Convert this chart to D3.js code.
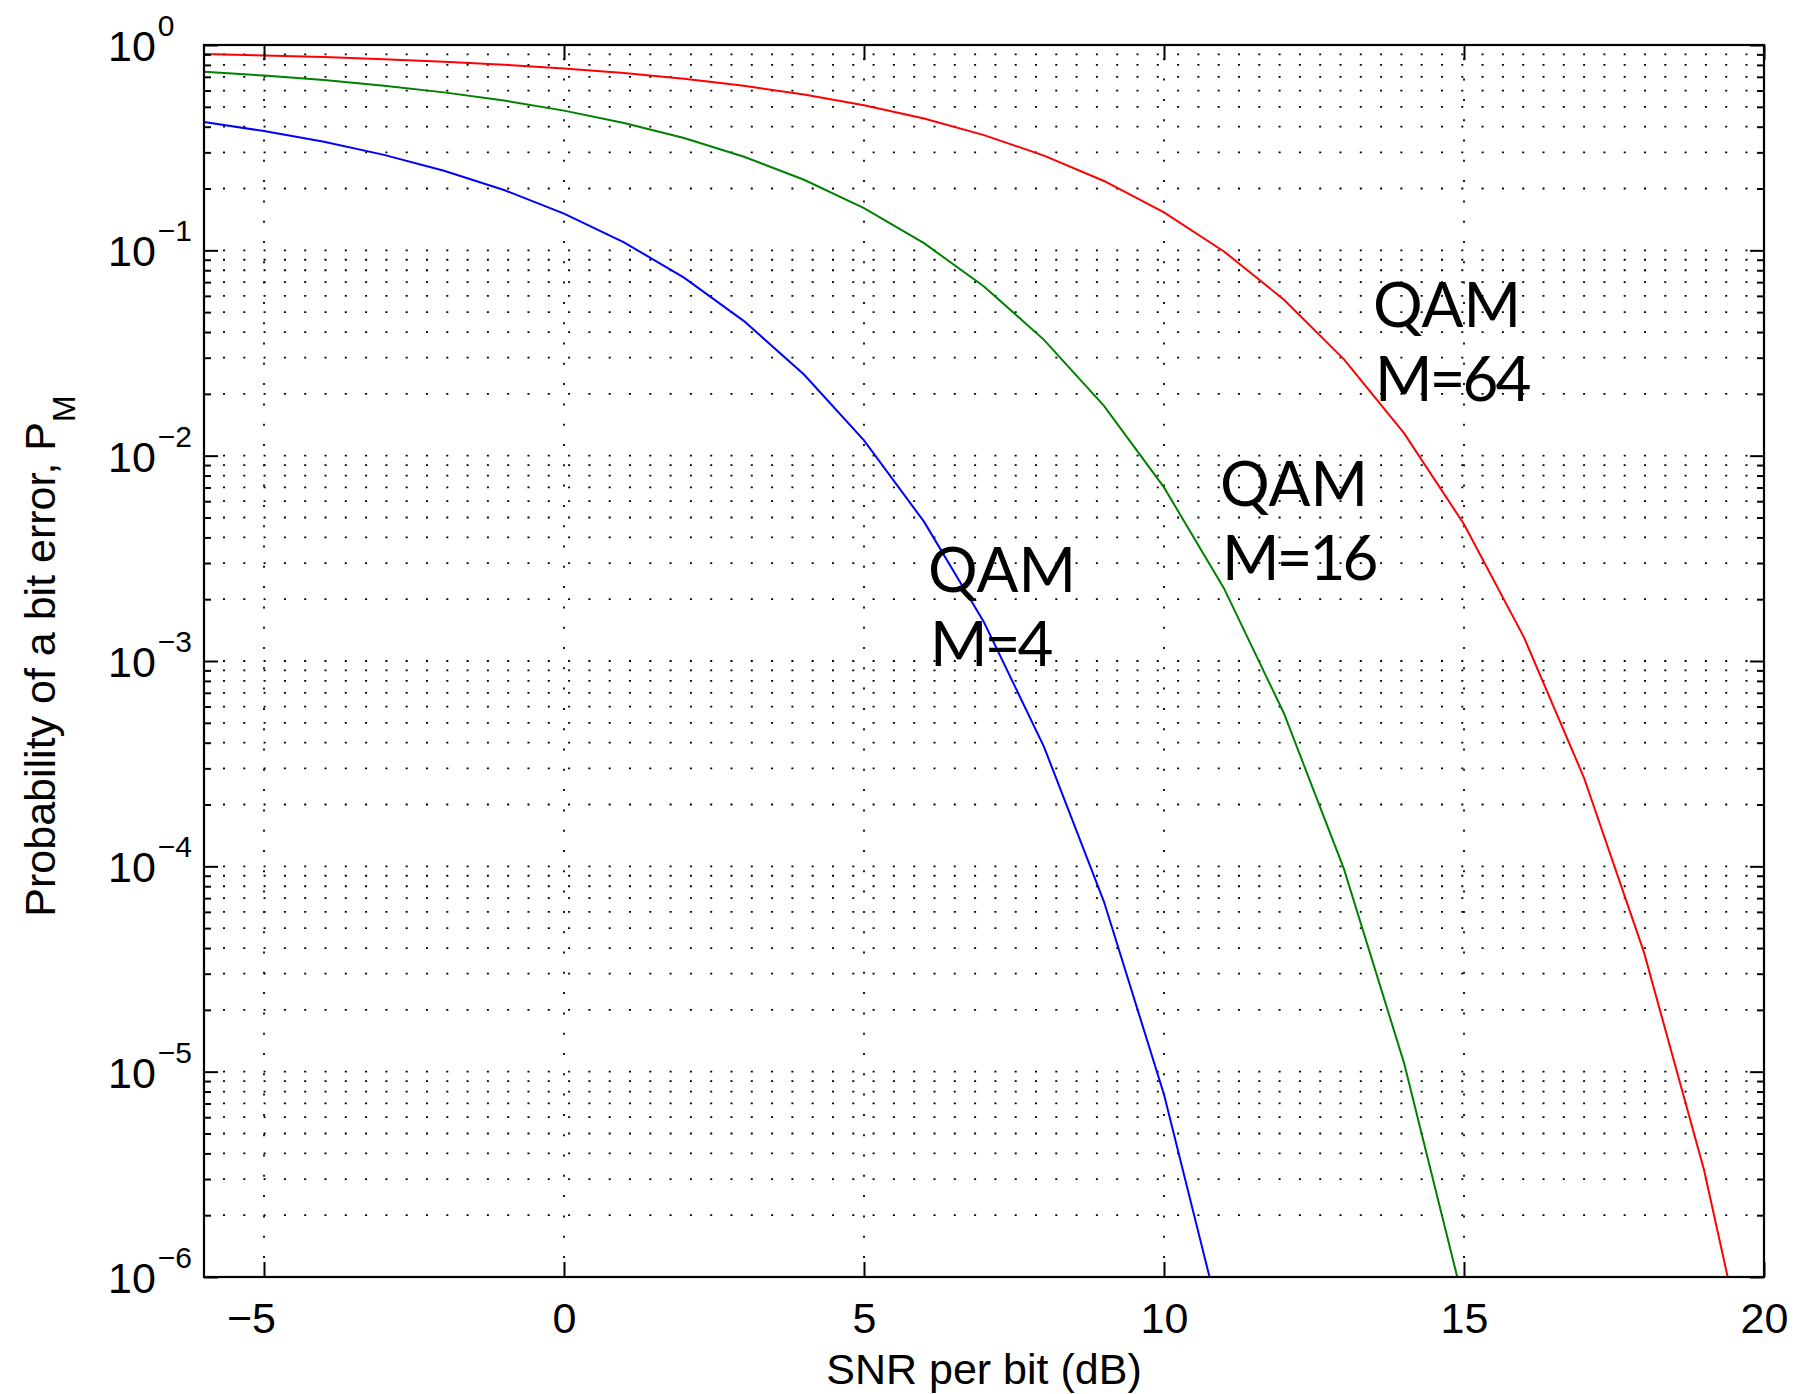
<!DOCTYPE html>
<html>
<head>
<meta charset="utf-8">
<script src="https://cdn.jsdelivr.net/npm/d3@7"></script>
<style>
  body { margin: 0; background: #fff; }
  svg { display: block; }
</style>
</head>
<body>
<svg id="chart" width="1799" height="1394"></svg>
<script>
// SNR per bit (dB), one point per integer dB
const snr = [-6, -5, -4, -3, -2, -1, 0, 1, 2, 3, 4, 5, 6, 7, 8, 9, 10,
             11, 12, 13, 14, 15, 16, 17, 18, 19, 20];

// error probability
const pm4 = [0.4213, 0.3809, 0.3376, 0.2917, 0.2441, 0.1968, 0.1510, 0.1094,
             0.0736, 0.04524, 0.02484, 0.01187, 0.00477, 0.001545, 3.82e-4,
             6.72e-5, 7.74e-6, 5.22e-7];
const pm16 = [0.7404, 0.7097, 0.6745, 0.6339, 0.5879, 0.5363, 0.4791, 0.4174,
              0.3522, 0.2856, 0.2206, 0.1607, 0.1084, 0.06671, 0.03665, 0.01749,
              0.007005, 0.002258, 5.55e-4, 9.69e-5, 1.104e-5, 7.38e-7];
const pm64 = [0.9040, 0.8900, 0.8732, 0.8534, 0.8297, 0.8017, 0.7686, 0.7298,
              0.6846, 0.6327, 0.5738, 0.5088, 0.4382, 0.3640, 0.2894, 0.2177,
              0.1530, 0.09873, 0.0575, 0.02946, 0.01288, 0.004638, 0.001303,
              2.70e-4, 3.81e-5, 3.33e-6, 1.58e-7];

const xTicks = [-5, 0, 5, 10, 15, 20];
const yMajor = [1e-6, 1e-5, 1e-4, 1e-3, 1e-2, 1e-1, 1];
const yExp = [-6, -5, -4, -3, -2, -1, 0];

const series = [
  { values: pm4, color: '#0000ff', label: ['QAM', 'M=4'], at: [928, 592] },
  { values: pm16, color: '#008000', label: ['QAM', 'M=16'], at: [1220, 506] },
  { values: pm64, color: '#ff0000', label: ['QAM', 'M=64'], at: [1373, 327] }
];

const font = "'Liberation Sans', Arial, Helvetica, sans-serif";
const svg = d3.select('#chart');
const mLeft = 204, mRight = 1764, mTop = 45, mBottom = 1277;

const x = d3.scaleLinear().domain([-6, 20]).range([mLeft, mRight]);
const y = d3.scaleLog().domain([1e-6, 1]).range([mBottom, mTop]);

// minor log ticks 2..9 in every decade
const yMinor = [];
for (let e = -6; e < 0; e++) {
  for (let m = 2; m <= 9; m++) yMinor.push(m * Math.pow(10, e));
}

// dotted grid
const grid = svg.append('g')
  .attr('stroke', '#000')
  .attr('stroke-width', 1.8)
  .attr('stroke-dasharray', '2,18.3');
grid.selectAll('line.h')
  .data(yMajor.concat(yMinor))
  .enter().append('line')
    .attr('x1', mLeft + 19).attr('x2', mRight)
    .attr('y1', d => y(d)).attr('y2', d => y(d));
grid.selectAll('line.v')
  .data(xTicks.filter(d => d < 20))
  .enter().append('line')
    .attr('x1', d => x(d)).attr('x2', d => x(d))
    .attr('y1', mBottom - 19).attr('y2', mTop);

// curves, clipped to the axes box
svg.append('clipPath').attr('id', 'plot-clip')
  .append('rect')
    .attr('x', mLeft).attr('y', mTop)
    .attr('width', mRight - mLeft).attr('height', mBottom - mTop);

const line = d3.line()
  .x((d, i) => x(snr[i]))
  .y(d => y(d));

svg.append('g').attr('clip-path', 'url(#plot-clip)')
  .selectAll('path')
  .data(series)
  .enter().append('path')
    .attr('d', s => line(s.values))
    .attr('fill', 'none')
    .attr('stroke', s => s.color)
    .attr('stroke-width', 2);

// axes: ticks point inwards on all four sides
const axes = svg.append('g');
axes.append('g')
  .attr('transform', `translate(0,${mBottom})`)
  .call(d3.axisBottom(x).tickValues(xTicks).tickSize(-15).tickPadding(25)
    .tickFormat(d => d < 0 ? '\u2212' + Math.abs(d) : d))
  .selectAll('.tick text')
    .attr('dx', d => d < 0 ? -13 : 0);
axes.append('g')
  .attr('transform', `translate(0,${mTop})`)
  .call(d3.axisTop(x).tickValues(xTicks).tickSize(-15).tickFormat(''));
axes.append('g')
  .attr('transform', `translate(${mLeft},0)`)
  .call(d3.axisLeft(y).tickValues(yMajor).tickSize(-14).tickFormat(''));
axes.append('g')
  .attr('transform', `translate(${mLeft},0)`)
  .call(d3.axisLeft(y).tickValues(yMinor).tickSize(-7).tickFormat(''));
axes.append('g')
  .attr('transform', `translate(${mRight},0)`)
  .call(d3.axisRight(y).tickValues(yMajor).tickSize(-14).tickFormat(''));
axes.append('g')
  .attr('transform', `translate(${mRight},0)`)
  .call(d3.axisRight(y).tickValues(yMinor).tickSize(-7).tickFormat(''));

axes.selectAll('.domain').remove();
axes.selectAll('.tick line').attr('stroke', '#000').attr('stroke-width', 2);
axes.selectAll('.tick text')
  .attr('font-family', font)
  .attr('font-size', 43)
  .attr('fill', '#000');

// frame
svg.append('rect')
  .attr('x', mLeft).attr('y', mTop)
  .attr('width', mRight - mLeft).attr('height', mBottom - mTop)
  .attr('fill', 'none').attr('stroke', '#000').attr('stroke-width', 2.2);

// y tick labels 10^n
const yLab = svg.append('g')
  .attr('font-family', font)
  .attr('fill', '#000');
yMajor.forEach((v, i) => {
  const t = yLab.append('text')
    .attr('x', 108)
    .attr('y', y(v) + 16);
  t.append('tspan').attr('font-size', 43).text('10');
  t.append('tspan')
    .attr('font-size', 30)
    .attr('dy', -25)
    .attr('dx', 2)
    .text(yExp[i] < 0 ? '\u2212' + Math.abs(yExp[i]) : yExp[i]);
});

// axis titles
svg.append('text')
  .attr('x', (mLeft + mRight) / 2)
  .attr('y', 1384)
  .attr('text-anchor', 'middle')
  .attr('font-family', font)
  .attr('font-size', 43)
  .text('SNR per bit (dB)');

const yt = svg.append('text')
  .attr('transform', `translate(55,${(mTop + mBottom) / 2 - 5}) rotate(-90)`)
  .attr('text-anchor', 'middle')
  .attr('font-family', font)
  .attr('font-size', 43);
yt.append('tspan').text('Probability of a bit error, P');
yt.append('tspan').attr('font-size', 32).attr('dy', 20).text('M');

// curve labels
const lab = svg.append('g')
  .attr('font-family', "Lato, 'Open Sans', sans-serif")
  .attr('font-size', 62)
  .attr('fill', '#000');
series.forEach(s => {
  lab.append('text').attr('x', s.at[0]).attr('y', s.at[1]).text(s.label[0]);
  lab.append('text').attr('x', s.at[0] + 2).attr('y', s.at[1] + 74)
    .attr('letter-spacing', -3)
    .text(s.label[1]);
});
</script>
</body>
</html>
